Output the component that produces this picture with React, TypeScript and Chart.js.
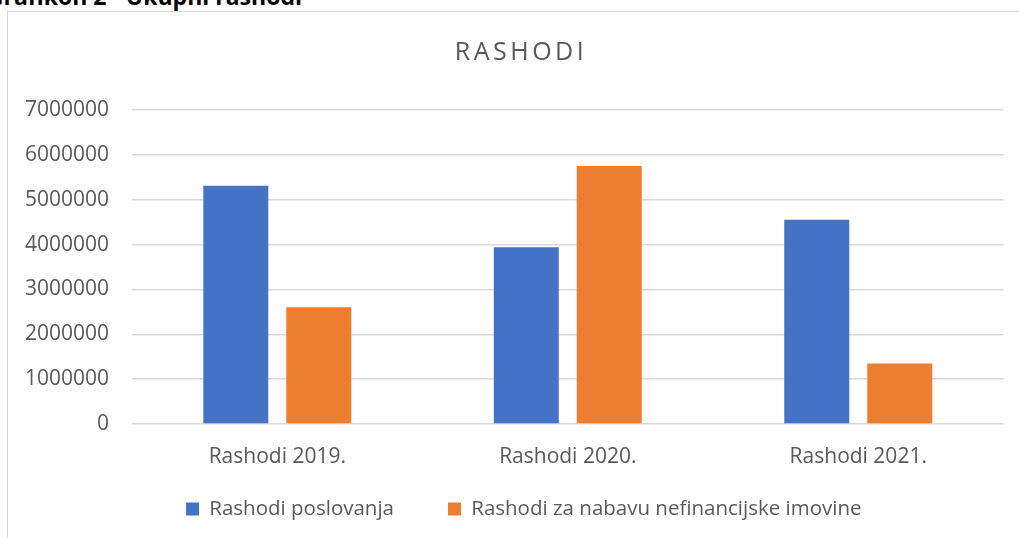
import React, { useEffect, useRef } from "react";
import { Chart, registerables } from "chart.js";

Chart.register(...registerables);

const categories = ["Rashodi 2019.", "Rashodi 2020.", "Rashodi 2021."];
const rashodiPoslovanja = [5310000, 3940000, 4555000];
const rashodiNefinancijske = [2600000, 5750000, 1350000];
const seriesNames = ["Rashodi poslovanja", "Rashodi za nabavu nefinancijske imovine"];
const yTicks = [0, 1000000, 2000000, 3000000, 4000000, 5000000, 6000000, 7000000];

const FONT = "'Open Sans', sans-serif";
const TEXT = "#595959";
const CLEAR = "rgba(0,0,0,0)";
const LEGEND_SHIFT = -24.5;

export default function App() {
  const ref = useRef<HTMLCanvasElement | null>(null);

  useEffect(() => {
    if (!ref.current) return;
    const titleSpacing = {
      id: "titleSpacing",
      beforeDraw(chart: any) {
        const tb = chart.titleBlock;
        if (tb && !tb.__wrapped) {
          const orig = tb.draw.bind(tb);
          tb.draw = (area: any) => {
            const c = chart.ctx as any;
            const prev = c.letterSpacing;
            c.letterSpacing = "3.5px";
            orig(area);
            c.letterSpacing = prev || "0px";
          };
          tb.__wrapped = true;
        }
      },
    };
    const legendNudge = {
      id: "legendNudge",
      afterLayout(chart: any) {
        const lg = chart.legend;
        if (lg) {
          lg.top += LEGEND_SHIFT;
          lg.bottom += LEGEND_SHIFT;
        }
      },
    };
    const chart = new Chart(ref.current, {
      type: "bar",
      data: {
        labels: categories,
        datasets: [
          {
            label: seriesNames[0],
            data: rashodiPoslovanja,
            backgroundColor: "#4472C4",
            categoryPercentage: 0.5715,
            barPercentage: 0.783,
          },
          {
            label: seriesNames[1],
            data: rashodiNefinancijske,
            backgroundColor: "#ED7D31",
            categoryPercentage: 0.5715,
            barPercentage: 0.783,
          },
        ],
      },
      options: {
        animation: false,
        responsive: false,
        layout: { padding: { left: 17, right: 13, top: 0, bottom: 0.3 } },
        plugins: {
          title: {
            display: true,
            text: "RASHODI",
            color: TEXT,
            font: { family: FONT, size: 25, weight: "normal" },
            padding: { top: 25.4, bottom: 42.6 },
          },
          legend: {
            position: "bottom",
            align: "start",
            fullSize: false,
            labels: {
              color: TEXT,
              font: { family: FONT, size: 20.5 },
              boxWidth: 13,
              boxHeight: 13,
              padding: 54,
            },
          },
          tooltip: { enabled: false },
        },
        scales: {
          x: {
            grid: { display: false, drawTicks: true, tickLength: 20, tickColor: CLEAR },
            border: { display: false },
            ticks: { color: TEXT, font: { family: FONT, size: 21 }, padding: 0, maxRotation: 0 },
          },
          y: {
            min: 0,
            max: 7000000,
            afterBuildTicks: (axis: any) => {
              axis.ticks = yTicks.map((v) => ({ value: v }));
            },
            grid: { color: "#D9D9D9", lineWidth: 1.5, drawTicks: true, tickLength: 23, tickColor: CLEAR },
            border: { display: false },
            ticks: {
              color: TEXT,
              font: { family: FONT, size: 21 },
              padding: 0,
              callback: (v: any) => String(v),
            },
          },
          y2: {
            type: "linear",
            position: "right",
            display: true,
            grid: { display: false, drawTicks: false },
            border: { display: false },
            ticks: { display: false },
            afterFit: (s: any) => {
              s.width = 13.5;
            },
          },
        },
      },
      plugins: [titleSpacing, legendNudge],
    });
    return () => chart.destroy();
  }, []);

  return (
    <div style={{ position: "absolute", left: 0, top: 0, width: 1019, height: 538, overflow: "hidden", background: "#fff" }}>
      <div style={{ position: "absolute", left: 0, top: 0, width: 302, height: 10 }}>
        <span
          style={{
            position: "absolute",
            right: 0,
            top: -16,
            whiteSpace: "nowrap",
            fontFamily: "'Open Sans', sans-serif",
            fontWeight: 700,
            fontSize: 23,
            lineHeight: "24px",
            color: "#000",
          }}
        >
          Grafikon 2 - Ukupni rashodi
        </span>
      </div>
      <div
        style={{
          position: "absolute",
          left: 7,
          top: 11,
          width: 1030,
          height: 560,
          borderTop: "1px solid #D9D9D9",
          borderLeft: "1px solid #D9D9D9",
        }}
      >
        <canvas ref={ref} width={1022} height={542} style={{ display: "block", width: 1022, height: 542 }} />
      </div>
    </div>
  );
}
